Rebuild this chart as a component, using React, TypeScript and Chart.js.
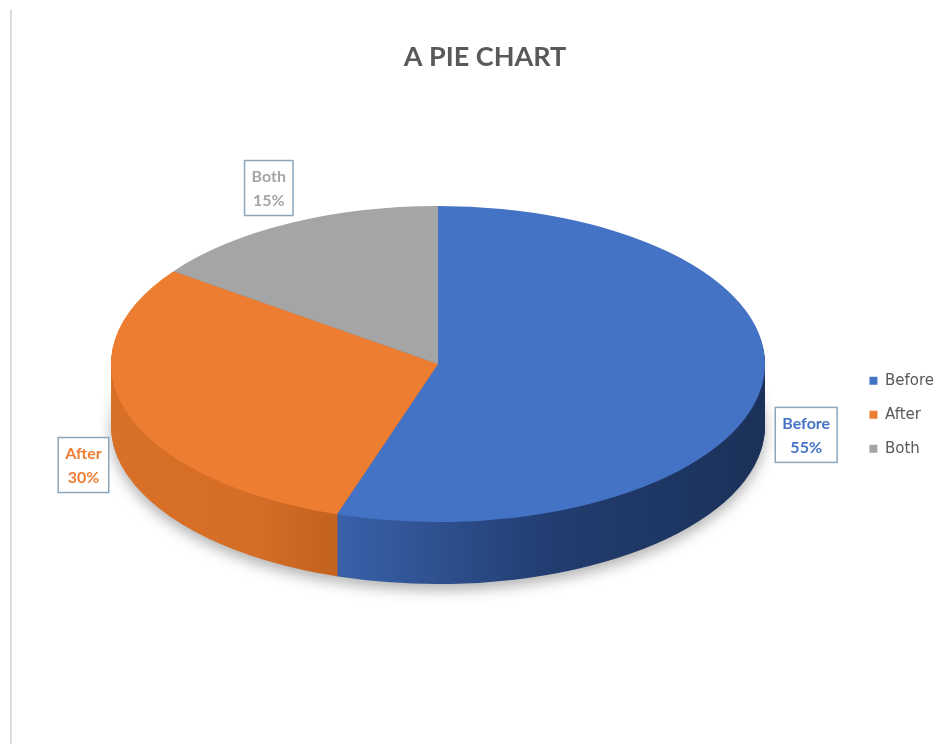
import React, { useEffect, useRef } from 'react';
import { Chart, registerables } from 'chart.js';

Chart.register(...registerables);

// ---- data ----
const categories = ['Before', 'After', 'Both'];
const percentValues = [55, 30, 15];
const sliceColors = ['#4472c4', '#ed7d31', '#a5a5a5'];
const labelColors = ['#4472c4', '#ed7d31', '#a5a5a5'];
const titleText = 'A PIE CHART';

// ---- 3D look (style) ----
const PIE_CX = 438;
const PIE_CY = 364;
const RX = 327;
const RY = 158;
const DEPTH = 62;

const sideStops: Array<Array<[number, string]>> = [
  [[0, '#3d68b8'], [0.33, '#3a63ad'], [0.68, '#213c6f'], [1, '#1b3159']],
  [[0, '#d97027'], [0.22, '#d56d26'], [0.33, '#c4631f'], [1, '#c4631f']],
  [[0, '#8a8a8a'], [1, '#6f6f6f']],
];

const pie3d = {
  id: 'pie3d',
  beforeDatasetsDraw(chart: any) {
    const meta = chart.getDatasetMeta(0);
    const arcs = meta.data;
    const ctx: CanvasRenderingContext2D = chart.ctx;
    ctx.save();
    if (!arcs.length) return;
    const p = arcs[0].getProps(['x', 'y', 'outerRadius'], true);
    const cx = p.x, cy = p.y, r = p.outerRadius;
    const kx = RX / r, ky = RY / r;
    for (let d = DEPTH; d >= 1; d--) {
      ctx.save();
      if (d === DEPTH) {
        ctx.shadowColor = 'rgba(0,0,0,0.30)';
        ctx.shadowBlur = 14;
        ctx.shadowOffsetY = 6;
      }
      ctx.translate(PIE_CX, PIE_CY + d);
      ctx.scale(kx, ky);
      ctx.translate(-cx, -cy);
      arcs.forEach((arc: any, i: number) => {
        const g = ctx.createLinearGradient(cx - r, 0, cx + r, 0);
        sideStops[i].forEach(([t, c]) => g.addColorStop(t, c));
        const tmp = Object.create(arc);
        tmp.options = Object.assign({}, arc.options, { backgroundColor: g, borderWidth: 0 });
        arc.draw.call(tmp, ctx);
      });
      ctx.restore();
    }
    ctx.translate(PIE_CX, PIE_CY);
    ctx.scale(kx, ky);
    ctx.translate(-cx, -cy);
  },
  afterDatasetsDraw(chart: any) {
    chart.ctx.restore();
  },
};

const labelPlugin = {
  id: 'boxLabels',
  afterDraw(chart: any) {
    const ctx: CanvasRenderingContext2D = chart.ctx;
    const arcs = chart.getDatasetMeta(0).data;
    const total = percentValues.reduce((a, b) => a + b, 0);
    arcs.forEach((arc: any, i: number) => {
      const { startAngle, endAngle } = arc.getProps(['startAngle', 'endAngle'], true);
      const mid = (startAngle + endAngle) / 2;
      const c = Math.cos(mid), s = Math.sin(mid);
      const x = PIE_CX + RX * 1.14 * c;
      const y = PIE_CY + RY * 1.25 * s + (s > 0 ? 40 : 0);
      const lines = [categories[i], Math.round((percentValues[i] / total) * 100) + '%'];
      ctx.save();
      ctx.font = 'bold 16px Lato';
      const w = Math.max(...lines.map((l) => ctx.measureText(l).width)) + 14;
      const h = 55;
      ctx.fillStyle = '#ffffff';
      ctx.fillRect(x - w / 2, y - h / 2, w, h);
      ctx.strokeStyle = '#8ba6bb';
      ctx.lineWidth = 1.5;
      ctx.strokeRect(x - w / 2, y - h / 2, w, h);
      ctx.fillStyle = labelColors[i];
      ctx.textAlign = 'center';
      ctx.textBaseline = 'middle';
      ctx.fillText(lines[0], x, y - 11);
      ctx.fillText(lines[1], x, y + 13);
      ctx.restore();
    });
  },
};

export default function App() {
  const ref = useRef<HTMLCanvasElement | null>(null);
  useEffect(() => {
    if (!ref.current) return;
    const chart = new Chart(ref.current, {
      type: 'pie',
      data: {
        labels: categories,
        datasets: [
          {
            data: percentValues,
            backgroundColor: sliceColors,
            borderWidth: 0,
            clip: false as any,
          },
        ],
      },
      options: {
        responsive: false,
        animation: false,
        layout: { padding: { left: 26, right: 0, top: 0, bottom: 0 } },
        plugins: {
          title: {
            display: true,
            text: titleText,
            color: '#595959',
            font: { family: 'Lato', size: 27, weight: 'bold' },
            padding: { top: 41, bottom: 12 },
          },
          legend: {
            display: true,
            position: 'right',
            fullSize: false,
            labels: {
              boxWidth: 8,
              boxHeight: 8,
              padding: 19,
              color: '#595959',
              font: { family: 'DejaVu Sans', size: 15 },
            },
          },
          tooltip: { enabled: false },
        },
      },
      plugins: [pie3d, labelPlugin],
    });
    return () => chart.destroy();
  }, []);
  return (
    <div style={{ position: 'fixed', left: 0, top: 0, width: 944, height: 744, background: '#ffffff' }}>
      <div style={{ position: 'absolute', left: 10, top: 10, width: 2, height: 734, background: '#dcdcdc' }} />
      <canvas ref={ref} width={944} height={744} style={{ position: 'absolute', left: 0, top: 0, display: 'block' }} />
    </div>
  );
}
